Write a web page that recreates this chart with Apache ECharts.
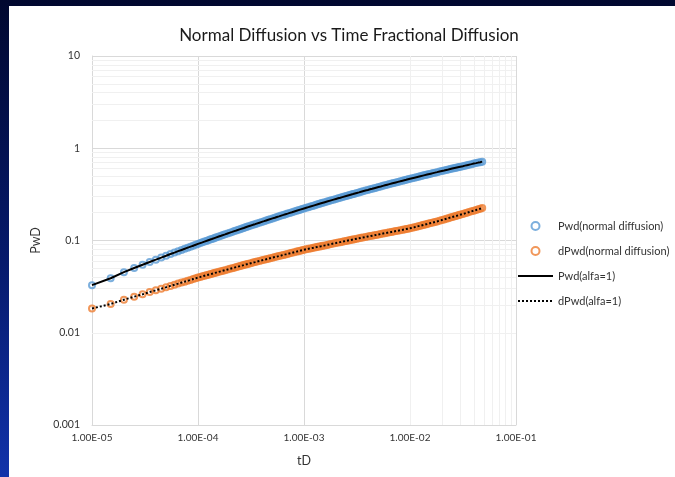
<!DOCTYPE html>
<html>
<head>
<meta charset="utf-8">
<title>Normal Diffusion vs Time Fractional Diffusion</title>
<script src="https://cdn.jsdelivr.net/npm/echarts@6/dist/echarts.min.js"></script>
<style>
  html, body {
    margin: 0;
    padding: 0;
    width: 675px;
    height: 477px;
    overflow: hidden;
    background: linear-gradient(180deg, #01082f 0%, #061a6c 55%, #1233aa 100%);
  }
  #chart {
    position: absolute;
    left: 9px;
    top: 6px;
    width: 666px;
    height: 471px;
    background: #fff;
  }
</style>
</head>
<body>
<div id="chart"></div>
<script>
// dimensionless time
var tD = [
  1e-5, 1.5e-5, 2e-5, 2.5e-5, 3e-5, 3.5e-5, 4e-5, 4.5e-5, 5e-5, 5.5e-5, 6e-5, 6.5e-5, 7e-5, 7.5e-5, 8e-5, 8.5e-5, 9e-5, 9.5e-5,
  1e-4, 1.05e-4, 1.1e-4, 1.15e-4, 1.2e-4, 1.25e-4, 1.3e-4, 1.35e-4, 1.4e-4, 1.45e-4, 1.5e-4, 1.57e-4, 1.65e-4, 1.72e-4, 1.8e-4, 1.9e-4,
  2e-4, 2.1e-4, 2.2e-4, 2.3e-4, 2.4e-4, 2.5e-4, 2.6e-4, 2.7e-4, 2.8e-4, 2.9e-4, 3e-4, 3.15e-4, 3.3e-4, 3.45e-4, 3.6e-4, 3.8e-4,
  4e-4, 4.2e-4, 4.4e-4, 4.6e-4, 4.8e-4, 5.05e-4, 5.3e-4, 5.55e-4, 5.8e-4, 6.1e-4, 6.4e-4, 6.7e-4, 7e-4, 7.35e-4, 7.7e-4, 8.1e-4, 8.5e-4, 8.85e-4, 9.2e-4, 9.6e-4,
  1e-3, 1.05e-3, 1.1e-3, 1.15e-3, 1.2e-3, 1.25e-3, 1.3e-3, 1.35e-3, 1.4e-3, 1.45e-3, 1.5e-3, 1.57e-3, 1.65e-3, 1.72e-3, 1.8e-3, 1.9e-3,
  2e-3, 2.1e-3, 2.2e-3, 2.3e-3, 2.4e-3, 2.5e-3, 2.6e-3, 2.7e-3, 2.8e-3, 2.9e-3, 3e-3, 3.15e-3, 3.3e-3, 3.45e-3, 3.6e-3, 3.8e-3,
  4e-3, 4.2e-3, 4.4e-3, 4.6e-3, 4.8e-3, 5.05e-3, 5.3e-3, 5.55e-3, 5.8e-3, 6.1e-3, 6.4e-3, 6.7e-3, 7e-3, 7.35e-3, 7.7e-3, 8.1e-3, 8.5e-3, 8.85e-3, 9.2e-3, 9.6e-3,
  1e-2, 1.05e-2, 1.1e-2, 1.15e-2, 1.2e-2, 1.25e-2, 1.3e-2, 1.35e-2, 1.4e-2, 1.45e-2, 1.5e-2, 1.57e-2, 1.65e-2, 1.72e-2, 1.8e-2, 1.9e-2,
  2e-2, 2.1e-2, 2.2e-2, 2.3e-2, 2.4e-2, 2.5e-2, 2.6e-2, 2.7e-2, 2.8e-2, 2.9e-2, 3e-2, 3.15e-2, 3.3e-2, 3.45e-2, 3.6e-2, 3.8e-2,
  4e-2, 4.2e-2, 4.4e-2, 4.6e-2, 4.8e-2
]
// Pwd, normal diffusion
var pwd = [
  0.0328, 0.0390, 0.0454, 0.0503, 0.0546, 0.0585, 0.0620, 0.0653, 0.0684, 0.0713, 0.0740, 0.0766, 0.0790, 0.0813, 0.0836, 0.0857, 0.0878, 0.0898,
  0.0918, 0.0937, 0.0955, 0.0973, 0.0990, 0.1007, 0.1023, 0.1038, 0.1054, 0.1069, 0.1084, 0.1104, 0.1126, 0.1145, 0.1166, 0.1192,
  0.1217, 0.1240, 0.1264, 0.1285, 0.1307, 0.1328, 0.1349, 0.1368, 0.1388, 0.1407, 0.1426, 0.1452, 0.1479, 0.1503, 0.1529, 0.1560,
  0.1591, 0.1620, 0.1649, 0.1677, 0.1703, 0.1736, 0.1767, 0.1798, 0.1827, 0.1862, 0.1894, 0.1927, 0.1957, 0.1992, 0.2025, 0.2063, 0.2099, 0.2129, 0.2159, 0.2192,
  0.2223, 0.2261, 0.2298, 0.2334, 0.2370, 0.2403, 0.2436, 0.2468, 0.2499, 0.2530, 0.2559, 0.2600, 0.2644, 0.2681, 0.2723, 0.2773,
  0.2821, 0.2867, 0.2911, 0.2955, 0.2996, 0.3037, 0.3076, 0.3114, 0.3152, 0.3187, 0.3222, 0.3274, 0.3322, 0.3371, 0.3416, 0.3476,
  0.3532, 0.3588, 0.3640, 0.3692, 0.3741, 0.3801, 0.3857, 0.3912, 0.3965, 0.4027, 0.4086, 0.4143, 0.4198, 0.4260, 0.4319, 0.4384, 0.4447, 0.4500, 0.4551, 0.4609,
  0.4665, 0.4732, 0.4796, 0.4857, 0.4918, 0.4974, 0.5030, 0.5083, 0.5136, 0.5187, 0.5236, 0.5304, 0.5378, 0.5439, 0.5507, 0.5590,
  0.5669, 0.5744, 0.5817, 0.5886, 0.5954, 0.6019, 0.6081, 0.6143, 0.6203, 0.6259, 0.6314, 0.6396, 0.6480, 0.6556, 0.6635, 0.6725,
  0.6820, 0.6900, 0.6990, 0.7065, 0.7160
]
// dPwd (derivative), normal diffusion
var dpwd = [
  0.0183, 0.0205, 0.0228, 0.0246, 0.0261, 0.0276, 0.0289, 0.0300, 0.0311, 0.0322, 0.0332, 0.0341, 0.0350, 0.0358, 0.0366, 0.0374, 0.0382, 0.0389,
  0.0397, 0.0403, 0.0409, 0.0415, 0.0420, 0.0426, 0.0431, 0.0436, 0.0441, 0.0446, 0.0451, 0.0457, 0.0464, 0.0470, 0.0477, 0.0485,
  0.0493, 0.0501, 0.0508, 0.0515, 0.0522, 0.0528, 0.0535, 0.0541, 0.0548, 0.0554, 0.0559, 0.0568, 0.0576, 0.0583, 0.0591, 0.0600,
  0.0609, 0.0618, 0.0626, 0.0634, 0.0642, 0.0652, 0.0661, 0.0669, 0.0678, 0.0688, 0.0698, 0.0707, 0.0716, 0.0726, 0.0736, 0.0747, 0.0758, 0.0767, 0.0775, 0.0785,
  0.0794, 0.0804, 0.0813, 0.0821, 0.0830, 0.0838, 0.0846, 0.0854, 0.0861, 0.0868, 0.0876, 0.0885, 0.0896, 0.0905, 0.0915, 0.0927,
  0.0938, 0.0949, 0.0960, 0.0970, 0.0980, 0.0990, 0.0999, 0.1008, 0.1017, 0.1026, 0.1034, 0.1046, 0.1057, 0.1068, 0.1078, 0.1091,
  0.1104, 0.1116, 0.1128, 0.1139, 0.1150, 0.1163, 0.1175, 0.1188, 0.1199, 0.1213, 0.1226, 0.1239, 0.1251, 0.1265, 0.1278, 0.1293, 0.1306, 0.1319, 0.1330, 0.1343,
  0.1355, 0.1375, 0.1393, 0.1412, 0.1429, 0.1447, 0.1463, 0.1479, 0.1495, 0.1510, 0.1526, 0.1546, 0.1568, 0.1588, 0.1610, 0.1639,
  0.1667, 0.1694, 0.1721, 0.1746, 0.1771, 0.1795, 0.1819, 0.1841, 0.1865, 0.1885, 0.1908, 0.1938, 0.1970, 0.2000, 0.2031, 0.2069,
  0.2107, 0.2143, 0.2179, 0.2213, 0.2246
]
// fractional model with alfa=1 falls on top of normal diffusion
var pwdAlfa1 = pwd
var dpwdAlfa1 = dpwd

var xTickLabels = ['1.00E-05', '1.00E-04', '1.00E-03', '1.00E-02', '1.00E-01']
var yTickLabels = ['0.001', '0.01', '0.1', '1', '10']
var xDecades = [1e-5, 1e-4, 1e-3, 1e-2]
var yDecades = [0.001, 0.01, 0.1, 1]
var minorSteps = [2, 3, 4, 5, 6, 7, 8, 9]

function pairs(xs, ys) {
  return xs.map(function (x, i) { return [x, ys[i]] })
}

// minor log grid lines (2..9 inside each decade)
var minorLines = []
xDecades.forEach(function (d) {
  minorSteps.forEach(function (m) { minorLines.push({ xAxis: d * m }) })
})
yDecades.forEach(function (d) {
  minorSteps.forEach(function (m) { minorLines.push({ yAxis: d * m }) })
})

var myChart = echarts.init(document.getElementById('chart'))

var option = {
  animation: false,
  textStyle: {
    fontFamily: 'Lato'
  },
  title: {
    text: 'Normal Diffusion vs Time Fractional Diffusion',
    left: 335,
    top: 16,
    textAlign: 'center',
    textStyle: {
      fontSize: 17,
      fontWeight: 'normal',
      color: '#1a1a1a'
    }
  },
  legend: {
    orient: 'vertical',
    left: 508,
    top: 213,
    padding: 0,
    itemWidth: 35,
    itemHeight: 8,
    itemGap: 11,
    data: [
      { name: 'Pwd(normal diffusion)' },
      { name: 'dPwd(normal diffusion)' },
      { name: 'Pwd(alfa=1)', itemStyle: { opacity: 0 } },
      { name: 'dPwd(alfa=1)', itemStyle: { opacity: 0 } }
    ],
    textStyle: {
      fontSize: 11,
      lineHeight: 14,
      color: '#333'
    }
  },
  grid: {
    left: 83,
    right: 159,
    top: 50,
    bottom: 52
  },
  xAxis: {
    type: 'log',
    logBase: 10,
    min: 1e-5,
    max: 1e-1,
    name: 'tD',
    nameLocation: 'middle',
    nameGap: 29,
    nameTextStyle: {
      fontSize: 12.5,
      color: '#333'
    },
    axisLine: {
      lineStyle: {
        color: '#d9d9d9'
      }
    },
    axisTick: {
      show: false
    },
    axisLabel: {
      fontSize: 10,
      color: '#333',
      margin: 8,
      formatter: function (value) {
        return xTickLabels[Math.round(Math.log10(value)) + 5]
      }
    },
    splitLine: {
      show: true,
      lineStyle: {
        color: '#d9d9d9'
      }
    }
  },
  yAxis: {
    type: 'log',
    logBase: 10,
    min: 0.001,
    max: 10,
    name: 'PwD',
    nameLocation: 'middle',
    nameGap: 50,
    nameTextStyle: {
      fontSize: 12.5,
      color: '#333'
    },
    axisLine: {
      show: true,
      lineStyle: {
        color: '#d9d9d9'
      }
    },
    axisTick: {
      show: false
    },
    axisLabel: {
      fontSize: 10.5,
      color: '#333',
      margin: 12,
      formatter: function (value) {
        return yTickLabels[Math.round(Math.log10(value)) + 3]
      }
    },
    splitLine: {
      show: true,
      lineStyle: {
        color: '#d9d9d9'
      }
    }
  },
  series: [
    {
      name: 'minor grid',
      type: 'line',
      data: [],
      silent: true,
      markLine: {
        z: 1,
        silent: true,
        symbol: ['none', 'none'],
        label: { show: false },
        lineStyle: {
          color: '#f0f0f0',
          width: 1,
          type: 'solid'
        },
        data: minorLines
      }
    },
    {
      name: 'Pwd(normal diffusion)',
      type: 'scatter',
      symbol: 'circle',
      symbolSize: 6,
      itemStyle: {
        color: 'rgba(0,0,0,0)',
        borderColor: '#5b9bd5',
        borderWidth: 2
      },
      data: pairs(tD, pwd)
    },
    {
      name: 'dPwd(normal diffusion)',
      type: 'scatter',
      symbol: 'circle',
      symbolSize: 6,
      itemStyle: {
        color: 'rgba(0,0,0,0)',
        borderColor: '#ed7d31',
        borderWidth: 2
      },
      data: pairs(tD, dpwd)
    },
    {
      name: 'Pwd(alfa=1)',
      type: 'line',
      symbol: 'none',
      z: 3,
      lineStyle: {
        color: '#000',
        width: 2
      },
      itemStyle: { color: '#000' },
      data: pairs(tD, pwdAlfa1)
    },
    {
      name: 'dPwd(alfa=1)',
      type: 'line',
      symbol: 'none',
      z: 3,
      lineStyle: {
        color: '#000',
        width: 2,
        type: 'dotted'
      },
      itemStyle: { color: '#000' },
      data: pairs(tD, dpwdAlfa1)
    }
  ]
}

option && myChart.setOption(option)
</script>
</body>
</html>
